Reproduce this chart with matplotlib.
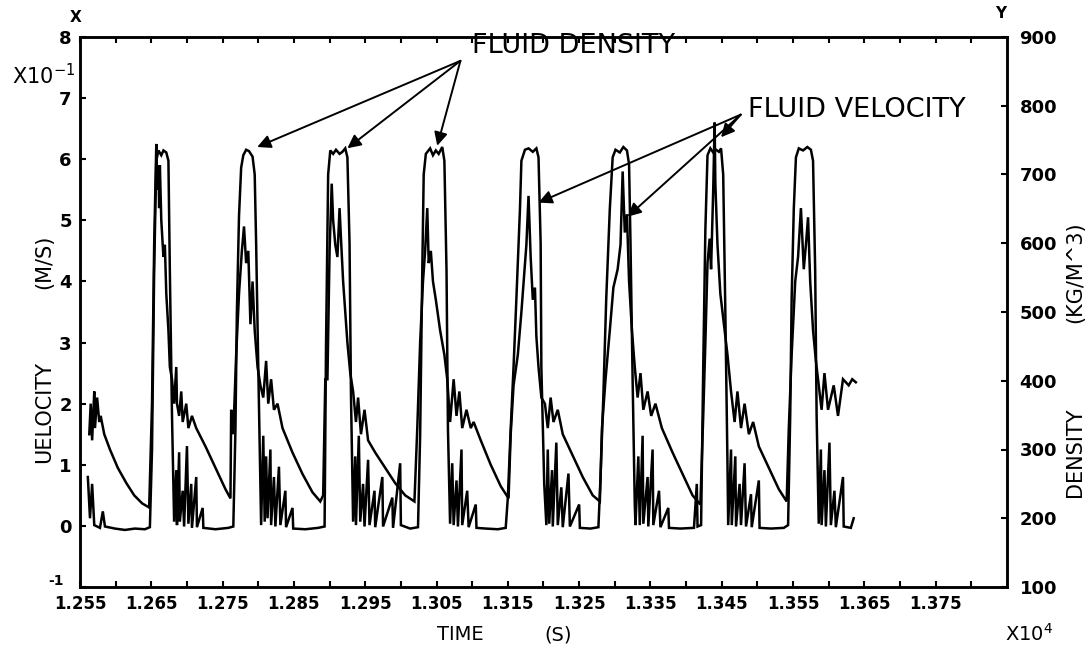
import numpy as np
import matplotlib
matplotlib.use("Agg")
import matplotlib.pyplot as plt

# ---------------- data (time in seconds, velocity in 1e-1 m/s, density in kg/m^3) ----------------
vel_time = [12563, 12565, 12567, 12570, 12571, 12574, 12577, 12579, 12584, 12592, 12603, 12615, 12626, 12637, 12647,
            12651, 12654, 12657, 12658, 12660, 12661, 12662, 12664, 12667, 12669, 12671, 12674, 12676, 12679, 12682,
            12685, 12686, 12689, 12692, 12694, 12699, 12702, 12707, 12713, 12726, 12740, 12754, 12761,
            12762, 12765, 12769, 12773, 12777, 12780, 12783, 12786, 12789, 12792, 12795, 12799, 12803, 12807, 12811,
            12814, 12818, 12822, 12827, 12834, 12848, 12862, 12876, 12887,
            12891, 12894, 12897, 12900, 12903, 12905, 12908, 12911, 12914, 12916, 12919, 12922, 12925, 12929, 12933,
            12937, 12940, 12944, 12949, 12954, 12964, 12978, 12992, 13006, 13019,
            13023, 13027, 13031, 13034, 13037, 13039, 13042, 13045, 13049, 13055, 13061, 13065, 13069, 13074, 13078,
            13082, 13086, 13092, 13098, 13102, 13112, 13126, 13140, 13151,
            13154, 13158, 13164, 13169, 13174, 13176, 13179, 13182, 13185, 13188, 13190, 13193, 13197, 13202, 13206,
            13210, 13214, 13220, 13227, 13241, 13255, 13269, 13279,
            13282, 13287, 13293, 13298, 13304, 13308, 13311, 13314, 13317, 13320, 13324, 13328, 13332, 13336, 13340,
            13346, 13351, 13357, 13366, 13381, 13395, 13409, 13420,
            13424, 13427, 13430, 13433, 13435, 13438, 13440, 13441, 13444, 13448, 13452, 13458, 13463, 13468, 13472,
            13477, 13482, 13488, 13494, 13502, 13516, 13530, 13541,
            13544, 13548, 13553, 13557, 13561, 13565, 13568, 13571, 13574, 13578, 13582, 13586, 13590, 13594, 13599,
            13603, 13607, 13613, 13620, 13628, 13633, 13638]
velocity = [1.5, 2.0, 1.4, 2.2, 1.6, 2.1, 1.7, 1.8, 1.5, 1.25, 0.95, 0.7, 0.5, 0.37, 0.3,
            2.0, 4.6, 6.25, 5.5, 5.9, 5.2, 5.9, 5.0, 4.4, 4.6, 3.8, 3.2, 2.6, 2.4, 2.0,
            2.6, 2.0, 1.8, 2.2, 1.7, 2.0, 1.6, 1.8, 1.6, 1.3, 0.95, 0.6, 0.45,
            1.9, 1.5, 2.8, 3.8, 4.5, 4.9, 4.3, 4.5, 3.3, 4.0, 3.2, 2.6, 2.3, 2.1, 2.7,
            2.0, 2.4, 1.9, 2.0, 1.6, 1.2, 0.85, 0.55, 0.4,
            0.5, 2.4, 2.4, 4.5, 5.6, 5.0, 4.6, 4.4, 5.2, 4.7, 4.0, 3.5, 3.0, 2.5, 2.2,
            1.7, 2.1, 1.5, 1.9, 1.4, 1.2, 0.95, 0.7, 0.5, 0.4,
            1.6, 3.0, 4.0, 4.5, 5.2, 4.3, 4.5, 4.0, 3.7, 3.2, 2.8, 2.4, 1.7, 2.4, 1.8,
            2.2, 1.6, 1.9, 1.6, 1.7, 1.4, 1.0, 0.65, 0.45,
            1.5, 2.3, 2.8, 3.5, 4.3, 4.6, 5.4, 4.4, 3.7, 3.9, 3.1, 2.6, 2.1, 2.0, 1.6,
            2.1, 1.7, 1.9, 1.5, 1.15, 0.8, 0.5, 0.4,
            1.6, 2.4, 3.2, 3.9, 4.2, 4.6, 5.8, 4.8, 5.1, 4.0, 3.2, 2.6, 2.1, 2.5, 1.9,
            2.2, 1.8, 2.0, 1.6, 1.2, 0.85, 0.5, 0.35,
            1.8, 3.0, 4.3, 4.7, 4.2, 5.5, 6.6, 5.6, 4.6, 3.8, 3.4, 2.8, 2.2, 1.7, 2.2,
            1.6, 2.0, 1.5, 1.7, 1.3, 0.95, 0.6, 0.4,
            1.6, 2.8, 4.0, 4.4, 5.2, 4.2, 4.6, 5.05, 4.0, 3.2, 2.7, 2.3, 1.9, 2.5, 1.9,
            2.1, 2.3, 1.8, 2.4, 2.3, 2.4, 2.35]

dens_time = [12561, 12564, 12567, 12570, 12578, 12582, 12585, 12599, 12613, 12627, 12641, 12648,
             12651, 12654, 12657, 12660, 12664, 12667, 12671, 12674, 12676, 12679, 12682,
             12685, 12686, 12689, 12690, 12694, 12696, 12700, 12702, 12706, 12707, 12713, 12714, 12722, 12723,
             12740, 12758, 12765,
             12768, 12770, 12773, 12776, 12779, 12783, 12787, 12792, 12795, 12797, 12800, 12803, 12804,
             12807, 12809, 12811, 12813, 12817, 12818, 12822, 12824, 12829, 12831, 12838, 12839, 12848, 12849,
             12866, 12884, 12893,
             12895, 12898, 12901, 12905, 12909, 12914, 12918, 12922, 12925, 12928, 12930, 12933,
             12936, 12937, 12941, 12943, 12947, 12949, 12954, 12956, 12963, 12964, 12974, 12975, 12988, 12989,
             12999, 13000, 13013, 13024,
             13027, 13030, 13032, 13035, 13041, 13045, 13049, 13053, 13058, 13061, 13064, 13066, 13069,
             13072, 13074, 13078, 13080, 13085, 13086, 13093, 13095, 13105, 13106, 13119, 13136, 13147,
             13150, 13154, 13158, 13162, 13167, 13169, 13174, 13179, 13185, 13190, 13193, 13196, 13197, 13201, 13204,
             13206, 13208, 13212, 13213, 13218, 13220, 13225, 13227, 13235, 13237, 13250, 13251, 13266, 13277,
             13280, 13284, 13288, 13293, 13297, 13301, 13307, 13312, 13317, 13320, 13322, 13325, 13328, 13329,
             13333, 13335, 13339, 13340, 13346, 13347, 13353, 13354, 13362, 13364, 13375, 13376, 13392, 13411,
             13415, 13416, 13421,
             13424, 13427, 13430, 13434, 13438, 13442, 13446, 13449, 13452, 13455, 13458, 13459,
             13463, 13464, 13469, 13470, 13475, 13477, 13482, 13484, 13491, 13492, 13502, 13503, 13519, 13537, 13543,
             13546, 13548, 13551, 13554, 13558, 13564, 13570, 13575, 13578, 13581, 13583, 13586,
             13589, 13590, 13594, 13596, 13601, 13603, 13608, 13610, 13620, 13621, 13631, 13635]
density = [260, 200, 250, 190, 186, 210, 188, 185, 183, 185, 184, 187,
           300, 560, 720, 735, 728, 735, 732, 720, 560, 350, 195,
           270, 190, 296, 195, 240, 188, 305, 192, 250, 186, 260, 187, 215, 186,
           184, 186, 188,
           330, 500, 640, 710, 728, 736, 734, 726, 700, 600, 420, 250, 190,
           320, 195, 290, 200, 300, 190, 260, 188, 275, 190, 240, 187, 215, 185,
           184, 186, 188,
           450, 700, 735, 730, 736, 730, 733, 738, 725, 600, 380, 195,
           290, 190, 320, 195, 250, 188, 285, 190, 240, 187, 260, 188, 230, 186,
           280, 190, 185, 187,
           320, 560, 700, 730, 738, 728, 735, 730, 740, 720, 560, 330, 192,
           280, 190, 255, 188, 300, 190, 240, 187, 220, 186, 185, 184, 186,
           230, 330, 420, 520, 650, 720, 736, 738, 733, 738, 725, 600, 420, 250, 190,
           300, 192, 270, 188, 310, 190, 245, 187, 265, 188, 220, 186, 185, 187,
           260, 380, 520, 650, 725, 736, 732, 740, 735, 715, 600, 400, 220, 190,
           290, 190, 320, 192, 260, 188, 300, 190, 240, 187, 215, 186, 185, 186,
           250, 188, 190,
           420, 620, 728, 738, 732, 736, 733, 738, 700, 500, 280, 190,
           300, 190, 290, 188, 250, 190, 280, 188, 235, 187, 255, 186, 185, 186, 190,
           350, 520, 650, 725, 738, 735, 740, 736, 720, 560, 350, 192,
           300, 190, 270, 188, 310, 190, 240, 187, 260, 188, 186, 200]

x_major = [1.255, 1.265, 1.275, 1.285, 1.295, 1.305, 1.315, 1.325, 1.335, 1.345, 1.355, 1.365, 1.375]
x_labels = ["1.255", "1.265", "1.275", "1.285", "1.295", "1.305", "1.315", "1.325", "1.335",
            "1.345", "1.355", "1.365", "1.375"]
vel_ticks = [-1, 0, 1, 2, 3, 4, 5, 6, 7, 8]
vel_labels = ["", "0", "1", "2", "3", "4", "5", "6", "7", "8"]
dens_ticks = [100, 200, 300, 400, 500, 600, 700, 800, 900]

# ---------------- figure ----------------
W, H = 1089, 649
fig = plt.figure(figsize=(W / 100, H / 100), dpi=100)
L, R, T, B = 80, 1007, 37, 587
ax = fig.add_axes([L / W, 1 - B / H, (R - L) / W, (B - T) / H])
ax2 = ax.twinx()

vt = np.array(vel_time) / 1e4
dt = np.array(dens_time) / 1e4
ax.plot(vt, velocity, color="black", lw=1.8, solid_joinstyle="miter")
ax2.plot(dt, density, color="black", lw=1.8, solid_joinstyle="miter")

ax.set_xlim(1.255, 1.385)
ax.set_ylim(-1, 8)
ax2.set_ylim(100, 900)

ax.set_xticks(x_major)
ax.set_xticklabels(x_labels)
ax.set_xticks([v + 0.005 for v in x_major], minor=True)
ax.set_yticks(vel_ticks)
ax.set_yticklabels(vel_labels)
ax2.set_yticks(dens_ticks)
ax2.set_yticklabels([str(v) for v in dens_ticks])

for lab in ax.get_xticklabels():
    lab.set_fontsize(12); lab.set_fontweight("bold")
for lab in ax.get_yticklabels():
    lab.set_fontsize(13); lab.set_fontweight("bold")
for lab in ax2.get_yticklabels():
    lab.set_fontsize(13); lab.set_fontweight("bold")

ax.tick_params(axis="x", which="both", direction="in", top=True, bottom=True,
               length=4, width=1.5, pad=6)
ax.tick_params(axis="y", which="both", direction="in", left=True, right=False,
               length=4, width=1.5, pad=6)
ax2.tick_params(axis="y", which="both", direction="in", right=True, left=False,
                length=4, width=1.5, pad=9)
for a in (ax, ax2):
    for s in a.spines.values():
        s.set_linewidth(1.8)

# the raised "-1" label of the velocity axis
fig.text(64 / W, 1 - 581 / H, "-1", fontsize=10, weight="bold", va="center", ha="right")

# annotations
arrow_kw = dict(arrowstyle="-|>", color="black", lw=1.4, mutation_scale=20,
                shrinkA=0, shrinkB=0)
dens_start = (1.30835, 7.61)
for tgt in [(1.27985, 6.2), (1.2925, 6.18), (1.3051, 6.22)]:
    ax.annotate("", xy=tgt, xytext=dens_start, arrowprops=arrow_kw)
ax.text(1.3100, 7.85, "FLUID DENSITY", fontsize=19.5, va="center", ha="left")

vel_start = (1.34766, 6.73)
for tgt in [(1.3193, 5.29), (1.3318, 5.06), (1.3449, 6.36)]:
    ax.annotate("", xy=tgt, xytext=vel_start, arrowprops=arrow_kw)
ax.text(1.34865, 6.80, "FLUID VELOCITY", fontsize=19.5, va="center", ha="left")

# axis labels / multipliers
fig.text(12 / W, 1 - 76 / H, "X10$^{-1}$", fontsize=15, va="center", ha="left")
fig.text(76 / W, 1 - 18 / H, "X", fontsize=11, va="center", ha="center", weight="bold")
fig.text(1001 / W, 1 - 14 / H, "Y", fontsize=11, va="center", ha="center", weight="bold")
fig.text(44 / W, 1 - 412 / H, "UELOCITY", fontsize=15, rotation=90, va="center", ha="center")
fig.text(44 / W, 1 - 262 / H, "(M/S)", fontsize=15, rotation=90, va="center", ha="center")
fig.text(1075 / W, 1 - 452 / H, "DENSITY", fontsize=15, rotation=90, va="center", ha="center")
fig.text(1075 / W, 1 - 272 / H, "(KG/M^3)", fontsize=15, rotation=90, va="center", ha="center")
fig.text(460 / W, 1 - 635 / H, "TIME", fontsize=14, va="center", ha="center")
fig.text(558 / W, 1 - 635 / H, "(S)", fontsize=14, va="center", ha="center")
fig.text(1005 / W, 1 - 634 / H, "X10$^{4}$", fontsize=14, va="center", ha="left")

fig.savefig("out.png", dpi=100)
